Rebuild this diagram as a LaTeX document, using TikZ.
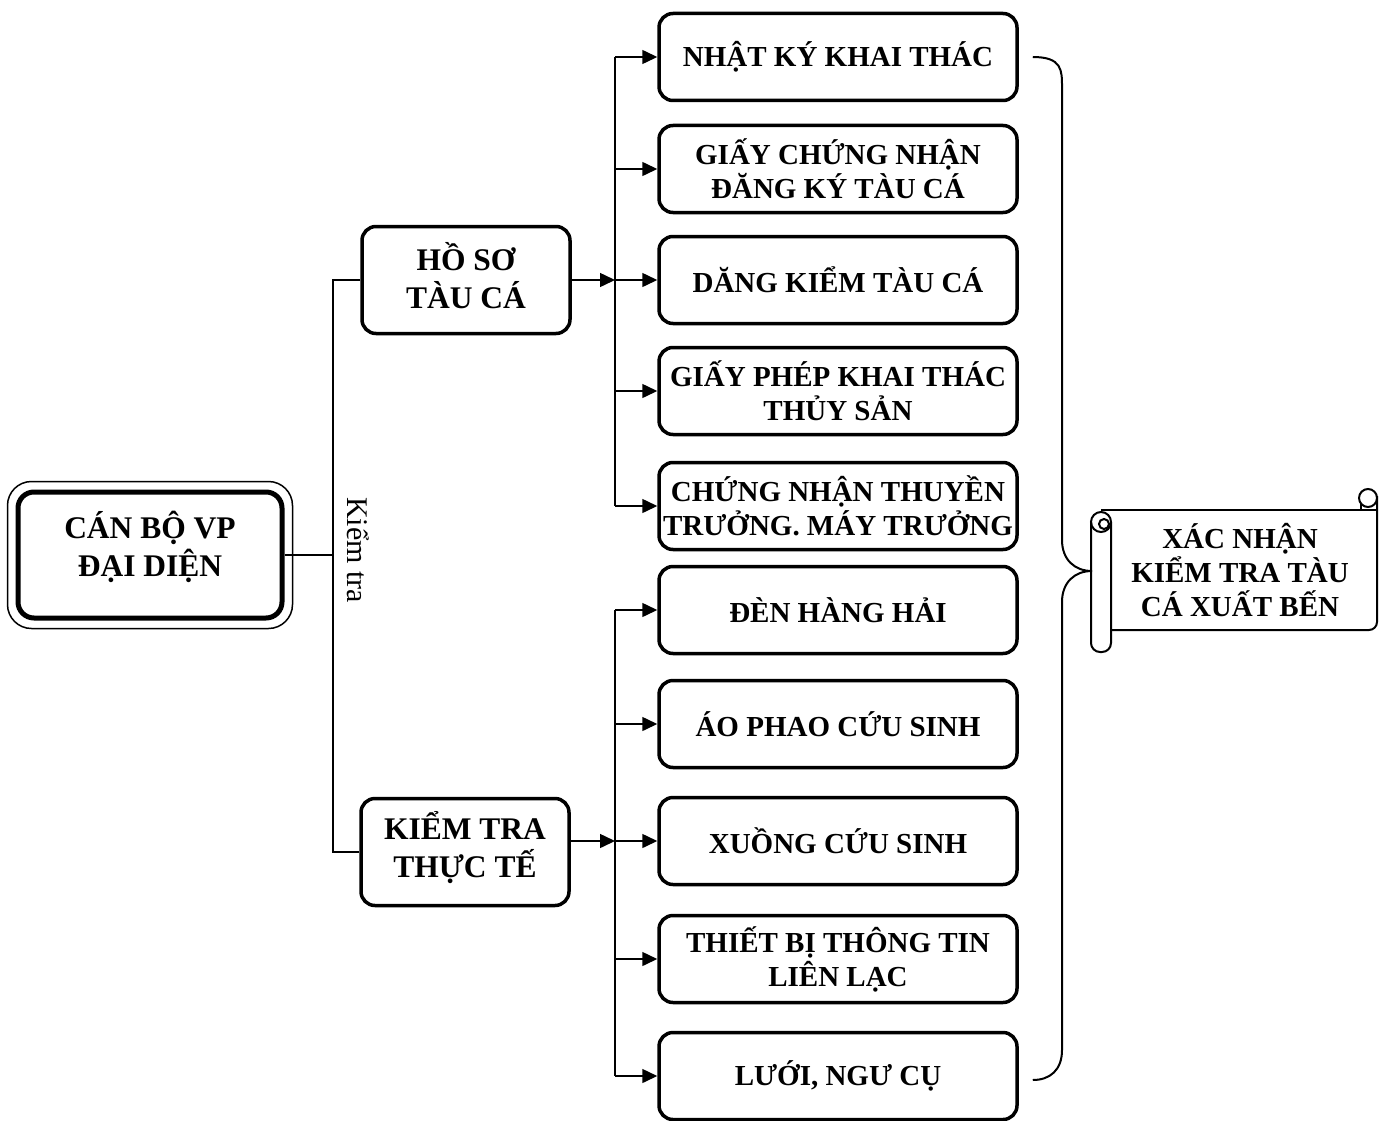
\documentclass[tikz,border=0pt]{standalone}
\usepackage{fontspec}
\setmainfont{Liberation Serif}
\usetikzlibrary{calc,positioning,arrows.meta}

\tikzset{
  item/.style={draw, line width=3.5pt, rounded corners=14pt, minimum width=358pt,
    minimum height=87pt, align=center, inner sep=1pt,
    font=\fontsize{29}{34}\selectfont\bfseries},
  group/.style={item, minimum width=208pt, minimum height=107pt},
  bigtext/.style={align=center, inner sep=0pt, font=\fontsize{31.5}{38}\selectfont\bfseries},
  link/.style={line width=1.5pt},
  arr/.style={link, -{Triangle[length=15pt,width=14pt]}},
  curl/.style={line width=2pt},
}

\begin{document}
\begin{tikzpicture}[x=1pt,y=-1pt]
  \useasboundingbox (0,0) rectangle (1386,1121);
  % left part
  \node[item, line width=5pt, rounded corners=16pt, minimum width=264pt,
    minimum height=126pt] (cb) at (150,555) {};
  \node[bigtext] (cbt) at ([yshift=8pt]cb.center) {CÁN BỘ VP\\ĐẠI DIỆN};
  \draw[link, rounded corners=24pt] ($(cb.south west)+(-8,8)$) rectangle ($(cb.north east)+(8,-8)$);
  \node[group] (ho) at (466,280) {};
  \node[bigtext] (hot) at ([yshift=4pt]ho.center) {HỒ SƠ\\TÀU CÁ};
  \node[group] (kt) at (465,852) {};
  \node[bigtext] (ktt) at ([yshift=4pt]kt.center) {KIỂM TRA\\THỰC TẾ};
  \coordinate (spine) at (333,0);
  \coordinate (bus1) at (615,0);
  \coordinate (bus2) at (615,0);
  \node[rotate=-90, font=\fontsize{30}{36}\selectfont] (lb) at (358,550) {Kiểm tra};

  % right boxes
  \node[item] (nk) at (838,57)   {NHẬT KÝ KHAI THÁC};
  \node[item] (gc) at (838,169)  {GIẤY CHỨNG NHẬN\\ĐĂNG KÝ TÀU CÁ};
  \node[item] (dk) at (838,280)  {DĂNG KIỂM TÀU CÁ};
  \node[item] (gp) at (838,391)  {GIẤY PHÉP KHAI THÁC\\THỦY SẢN};
  \node[item] (cn) at (838,506)  {CHỨNG NHẬN THUYỀN\\TRƯỞNG. MÁY TRƯỞNG};
  \node[item] (dh) at (838,610)  {ĐÈN HÀNG HẢI};
  \node[item] (ap) at (838,724)  {ÁO PHAO CỨU SINH};
  \node[item] (xs) at (838,841)  {XUỒNG CỨU SINH};
  \node[item] (tb) at (838,959)  {THIẾT BỊ THÔNG TIN\\LIÊN LẠC};
  \node[item] (lg) at (838,1076) {LƯỚI, NGƯ CỤ};

  % connectors
  \draw[link] (cb.east) -- (spine |- cb.east);
  \draw[link] (ho.west) -- (spine |- ho.west) -- (spine |- kt.west) -- (kt.west);
  \draw[arr] (ho.east) -- (bus1 |- ho.east);
  \draw[arr] (kt.east |- xs.west) -- (bus2 |- xs.west);
  \draw[link] (bus1 |- nk.west) -- (bus1 |- cn.west);
  \draw[link] (bus2 |- dh.west) -- (bus2 |- lg.west);
  \foreach \b in {nk,gc,dk,gp,cn}
    \draw[arr] (bus1 |- \b.west) -- (\b.west);
  \foreach \b in {dh,ap,xs,tb,lg}
    \draw[arr] (bus2 |- \b.west) -- (\b.west);

  % scroll
  \node[font=\fontsize{29}{34}\selectfont\bfseries, align=center] (xn) at (1240,570)
    {XÁC NHẬN\\KIỂM TRA TÀU\\CÁ XUẤT BẾN};
  \draw[curl] (1101,510) -- (1377,510);
  \draw[curl, rounded corners=8pt] (1377,496) -- (1377,630) -- (1111,630);
  \draw[curl] (1368,498) circle (9);
  \draw[curl] (1361,503) -- (1361,510);
  \draw[curl, rounded corners=9pt] (1091,522) -- (1091,652) -- (1111,652) -- (1111,522);
  \draw[curl] (1101,522) circle (10);
  \draw[curl] (1104,524) circle (5);
  \coordinate (tip) at (1092,571);

  % brace
  \draw[curl] ($(nk.east)+(14,0)$) .. controls (1062,57) and (1062,70) .. (1062,87)
    -- (1062,540) .. controls (1062,560) and (1075,571) .. (tip)
    .. controls (1075,571) and (1062,582) .. (1062,602)
    -- (1062,1050) .. controls (1062,1070) and (1050,1080) .. ($(lg.east)+(14,4)$);
\end{tikzpicture}
\end{document}
